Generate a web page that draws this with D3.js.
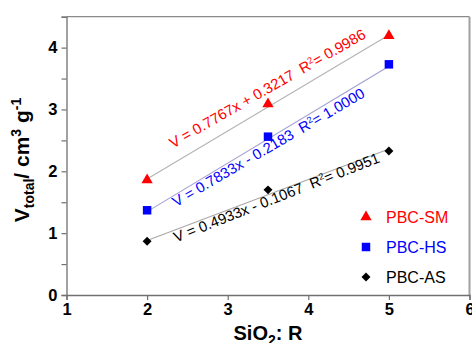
<!DOCTYPE html>
<html>
<head>
<meta charset="utf-8">
<script src="https://cdn.jsdelivr.net/npm/d3@7"></script>
<style>
  body { margin: 0; background: #fff; }
  svg { display: block; font-family: Arial, "Liberation Sans", sans-serif; }
</style>
</head>
<body>
<div class="chart"></div>
<script>
// data
const ratios = [2, 3.5, 5];
const smValues = [1.86, 3.09, 4.19];
const hsValues = [1.37, 2.56, 3.73];
const asValues = [0.87, 1.70, 2.33];

const seriesNames = ["PBC-SM", "PBC-HS", "PBC-AS"];
const fitSlopes = [0.7767, 0.7833, 0.4933];
const fitIntercepts = [0.3217, -0.2183, -0.1067];
const fitR2 = ["0.9986", "1.0000", "0.9951"];

const xTicks = [1, 2, 3, 4, 5, 6];
const yTicks = [0, 1, 2, 3, 4];

const width = 472, height = 343;
const margin = { top: 16.7, right: 2.5, bottom: 48, left: 66.5 };

const svg = d3.select(".chart").append("svg")
  .attr("width", width)
  .attr("height", height);

const x = d3.scaleLinear().domain([1, 6]).range([margin.left, width - margin.right]);
const y = d3.scaleLinear().domain([0, 4.5]).range([height - margin.bottom, margin.top]);

const colors = ["#ff0000", "#0000ff", "#000000"];
const lineColors = ["#b4b4b4", "#a0a0d2", "#a8a8a8"];
const symbols = [d3.symbolTriangle, d3.symbolSquare, d3.symbolSquare];
const symbolSizes = [55, 72, 40];
const symbolTurns = [0, 0, 45];
const allValues = [smValues, hsValues, asValues];

// frame (top + right)
svg.append("line")
  .attr("x1", x(1)).attr("x2", x(6))
  .attr("y1", y(4.5)).attr("y2", y(4.5))
  .attr("stroke", "#8a8a8a").attr("stroke-width", 1.2);
svg.append("line")
  .attr("x1", x(6)).attr("x2", x(6))
  .attr("y1", y(4.5)).attr("y2", y(0))
  .attr("stroke", "#a0a0a0").attr("stroke-width", 2);

// axes
const xAxis = svg.append("g")
  .attr("transform", "translate(0," + y(0) + ")")
  .call(d3.axisBottom(x).tickValues(xTicks).tickFormat(d3.format("d")).tickSize(5).tickPadding(3));
const yAxis = svg.append("g")
  .attr("transform", "translate(" + x(1) + ",0)")
  .call(d3.axisLeft(y).tickValues(d3.range(0, 4.51, 0.5)).tickSize(5).tickPadding(4)
    .tickFormat(d => yTicks.includes(d) ? d3.format("d")(d) : ""));

[xAxis, yAxis].forEach(g => {
  g.select(".domain").attr("stroke", "#707070").attr("stroke-width", 1.3);
  g.selectAll(".tick line").attr("stroke", "#707070").attr("stroke-width", 1.2);
  g.selectAll(".tick text")
    .attr("fill", "#000")
    .style("font-size", "16.5px")
    .style("font-weight", "bold")
    .style("font-family", "Arial, 'Liberation Sans', sans-serif");
});

// axis titles
const xTitle = svg.append("text")
  .attr("x", (x(1) + x(6)) / 2 + 0)
  .attr("y", 340)
  .attr("text-anchor", "middle")
  .style("font-size", "20px")
  .style("font-weight", "bold");
xTitle.append("tspan").text("SiO");
xTitle.append("tspan").attr("dy", 5).style("font-size", "14px").text("2");
xTitle.append("tspan").attr("dy", -5).text(": R");

const yTitle = svg.append("text")
  .attr("transform", "translate(29,160) rotate(-90)")
  .attr("text-anchor", "middle")
  .style("font-size", "21px")
  .style("font-weight", "bold");
yTitle.append("tspan").text("V");
yTitle.append("tspan").attr("dy", 5).style("font-size", "14px").text("total");
yTitle.append("tspan").attr("dy", -5).text("/ cm");
yTitle.append("tspan").attr("dy", -8).style("font-size", "14px").text("3");
yTitle.append("tspan").attr("dy", 8).text(" g");
yTitle.append("tspan").attr("dy", -8).style("font-size", "14px").text("-1");

// trend lines
const fitRange = [ratios[0], ratios[ratios.length - 1]];
seriesNames.forEach((name, i) => {
  svg.append("line")
    .attr("x1", x(fitRange[0]))
    .attr("y1", y(fitSlopes[i] * fitRange[0] + fitIntercepts[i]))
    .attr("x2", x(fitRange[1]))
    .attr("y2", y(fitSlopes[i] * fitRange[1] + fitIntercepts[i]))
    .attr("stroke", lineColors[i])
    .attr("stroke-width", 1.1);
});

// points
seriesNames.forEach((name, i) => {
  svg.append("g")
    .selectAll("path")
    .data(ratios.map((r, j) => [r, allValues[i][j]]))
    .enter()
    .append("path")
    .attr("transform", d => "translate(" + x(d[0]) + "," + y(d[1]) + ") rotate(" + symbolTurns[i] + ")")
    .attr("d", d3.symbol().type(symbols[i]).size(symbolSizes[i]))
    .attr("fill", colors[i]);
});

// fit equations, anchored in data coordinates
const labelAnchors = [[2.32, 2.37, -29.8], [2.36, 1.42, -30.3], [2.36, 0.85, -21.5]];
seriesNames.forEach((name, i) => {
  const a = labelAnchors[i];
  const sign = fitIntercepts[i] < 0 ? "-" : "+";
  const t = svg.append("text")
    .attr("transform", "translate(" + x(a[0]) + "," + y(a[1]) + ") rotate(" + a[2] + ")")
    .attr("fill", colors[i])
    .style("font-size", "14.8px");
  t.append("tspan")
    .text("V = " + fitSlopes[i].toFixed(4) + "x " + sign + " " + Math.abs(fitIntercepts[i]).toFixed(4) + "\u00a0\u00a0R");
  t.append("tspan").attr("dy", -5).style("font-size", "9px").text("2");
  t.append("tspan").attr("dy", 5).text("=\u00a0" + fitR2[i]);
});

// legend
const legend = svg.append("g");
seriesNames.forEach((name, i) => {
  const ly = 217 + i * 30;
  legend.append("path")
    .attr("transform", "translate(366," + ly + ") rotate(" + symbolTurns[i] + ")")
    .attr("d", d3.symbol().type(symbols[i]).size(symbolSizes[i]))
    .attr("fill", colors[i]);
  legend.append("text")
    .attr("x", 386)
    .attr("y", ly)
    .attr("dy", "0.36em")
    .attr("fill", colors[i])
    .style("font-size", "16px")
    .text(name);
});
</script>
</body>
</html>
